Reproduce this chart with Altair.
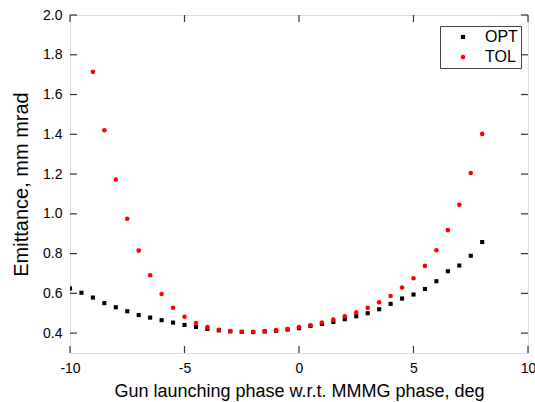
import altair as alt
import pandas as pd

# Gun launching phase relative to the MMMG phase, deg
phase_opt = [-10, -9.5, -9, -8.5, -8, -7.5, -7, -6.5, -6, -5.5, -5, -4.5, -4,
             -3.5, -3, -2.5, -2, -1.5, -1, -0.5, 0, 0.5, 1, 1.5, 2, 2.5, 3,
             3.5, 4, 4.5, 5, 5.5, 6, 6.5, 7, 7.5, 8]
emit_opt = [0.625, 0.603, 0.579, 0.551, 0.530, 0.510, 0.491, 0.478, 0.465,
            0.453, 0.441, 0.431, 0.421, 0.414, 0.409, 0.406, 0.405, 0.408,
            0.412, 0.418, 0.425, 0.436, 0.446, 0.456, 0.470, 0.485, 0.500,
            0.520, 0.547, 0.574, 0.594, 0.622, 0.661, 0.711, 0.740, 0.789,
            0.858]

phase_tol = [-9, -8.5, -8, -7.5, -7, -6.5, -6, -5.5, -5, -4.5, -4, -3.5, -3,
             -2.5, -2, -1.5, -1, -0.5, 0, 0.5, 1, 1.5, 2, 2.5, 3, 3.5, 4,
             4.5, 5, 5.5, 6, 6.5, 7, 7.5, 8]
emit_tol = [1.714, 1.420, 1.173, 0.975, 0.815, 0.691, 0.597, 0.528, 0.482,
            0.451, 0.430, 0.417, 0.411, 0.407, 0.407, 0.411, 0.415, 0.421,
            0.430, 0.439, 0.453, 0.468, 0.485, 0.505, 0.527, 0.555, 0.587,
            0.629, 0.676, 0.738, 0.817, 0.918, 1.046, 1.205, 1.402]

series_names = ["OPT", "TOL"]
series_colors = ["#000000", "#ff0000"]
series_shapes = ["square", "circle"]

x_ticks = [-10, -5, 0, 5, 10]
y_ticks = [0.4, 0.6, 0.8, 1.0, 1.2, 1.4, 1.6, 1.8, 2.0]

W, H = 458, 338
TICK = 7
FONT = "Liberation Sans"

df = pd.concat([
    pd.DataFrame({"phase": phase_opt, "emit": emit_opt, "series": "OPT"}),
    pd.DataFrame({"phase": phase_tol, "emit": emit_tol, "series": "TOL"}),
], ignore_index=True)

x_scale = alt.Scale(domain=[-10, 10], nice=False, zero=False)
y_scale = alt.Scale(domain=[0.3, 2.0], nice=False, zero=False)

points = alt.Chart(df).mark_point(filled=True, opacity=1, clip=True).encode(
    x=alt.X("phase:Q", scale=x_scale,
            axis=alt.Axis(values=x_ticks, title="Gun launching phase w.r.t. MMMG phase, deg",
                          grid=False, domain=False, tickSize=0, labelPadding=8,
                          titlePadding=7, labelFontSize=14, titleFontSize=18,
                          titleFontWeight="normal", labelFlush=False,
                          labelExpr="replace(datum.label, '\u2212', '-')")),
    y=alt.Y("emit:Q", scale=y_scale,
            axis=alt.Axis(values=y_ticks, format=".1f", title="Emittance, mm mrad",
                          grid=False, domain=False, tickSize=0, labelPadding=8,
                          titlePadding=11, labelFontSize=14, titleFontSize=20,
                          titleFontWeight="normal", labelFlush=False)),
    color=alt.Color("series:N", scale=alt.Scale(domain=series_names, range=series_colors),
                    legend=alt.Legend(title=None, orient="none", legendX=370, legendY=11,
                                      strokeColor="#444", padding=3, rowPadding=4,
                                      labelFontSize=16, symbolSize=18, labelOffset=14,
                                      symbolOffset=12, labelFont=FONT)),
    shape=alt.Shape("series:N", scale=alt.Scale(domain=series_names, range=series_shapes),
                    legend=None),
    size=alt.Size("series:N", scale=alt.Scale(domain=series_names, range=[17, 21]),
                  legend=None),
)

# inward tick marks on all four sides of the frame
xt = pd.DataFrame({"t": x_ticks})
yt = pd.DataFrame({"t": y_ticks})
tick_style = dict(color="#333", strokeWidth=1.2)
bottom = alt.Chart(xt).mark_rule(**tick_style).encode(
    x=alt.X("t:Q", scale=x_scale), y=alt.value(H), y2=alt.value(H - TICK))
top = alt.Chart(xt).mark_rule(**tick_style).encode(
    x=alt.X("t:Q", scale=x_scale), y=alt.value(0), y2=alt.value(TICK))
left = alt.Chart(yt).mark_rule(**tick_style).encode(
    y=alt.Y("t:Q", scale=y_scale), x=alt.value(0), x2=alt.value(TICK))
right = alt.Chart(yt).mark_rule(**tick_style).encode(
    y=alt.Y("t:Q", scale=y_scale), x=alt.value(W), x2=alt.value(W - TICK))

chart = alt.layer(bottom, top, left, right, points).properties(
    width=W, height=H,
    autosize=alt.AutoSizeParams(type="none"),
    padding={"left": 70, "top": 15, "right": 7, "bottom": 49},
).configure_view(
    stroke="#333", strokeWidth=1.4
).configure_axis(
    labelFont=FONT, titleFont=FONT, labelColor="#1a1a1a", titleColor="#1a1a1a"
).configure_legend(
    labelColor="#1a1a1a"
).configure(background="white")

chart.save("out.html", embed_options={"renderer": "svg", "actions": False})
